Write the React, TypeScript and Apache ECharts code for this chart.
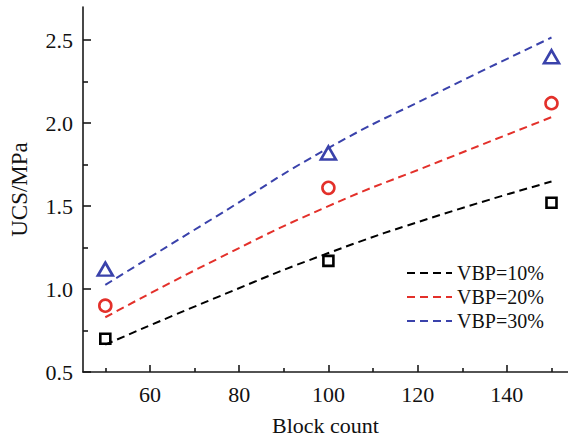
import React, { useEffect, useRef } from 'react';
import * as echarts from 'echarts';

// measured points
const blockCount = [50, 100, 150];
const ucs10 = [0.70, 1.17, 1.52];
const ucs20 = [0.90, 1.61, 2.12];
const ucs30 = [1.12, 1.82, 2.40];

// fitted dashed curves
const fitX = [50, 75, 100, 125, 150];
const fit10 = [0.665, 0.95, 1.217, 1.446, 1.648];
const fit20 = [0.83, 1.18, 1.50, 1.77, 2.036];
const fit30 = [1.025, 1.44, 1.85, 2.19, 2.516];

const seriesNames = ['VBP=10%', 'VBP=20%', 'VBP=30%'];

const xMajorTicks = [60, 80, 100, 120, 140];
const xMinorTicks = [50, 70, 90, 110, 130, 150];
const yMajorTicks = [0.5, 1.0, 1.5, 2.0, 2.5];
const yMinorTicks = [0.75, 1.25, 1.75, 2.25];

const BLACK = '#000000';
const RED = '#e3302a';
const BLUE = '#3a42ab';
const FONT = '"Liberation Serif", "Times New Roman", serif';

const pairs = (xs: number[], ys: number[]) => xs.map((x, i) => [x, ys[i]]);

export default function App() {
  const ref = useRef<HTMLDivElement>(null);
  useEffect(() => {
    if (!ref.current) return;
    const chart = echarts.init(ref.current, undefined, { renderer: 'svg' });
    const axisLineStyle = { color: '#1a1a1a', width: 1.6 };
    const xCommon = { type: 'value' as const, min: 45, max: 153.7, gridIndex: 0, position: 'bottom' as const };
    const yCommon = { type: 'value' as const, min: 0.5, max: 2.7, gridIndex: 0, position: 'left' as const };
    const lineSeries = (name: string, ys: number[], color: string) => ({
      name,
      type: 'line',
      data: pairs(fitX, ys),
      smooth: true,
      symbol: 'none',
      showSymbol: false,
      lineStyle: { color, width: 2, type: [8, 5] },
      itemStyle: { color },
      z: 2,
    });
    const scatterSeries = (ys: number[], color: string, symbol: string, size: any) => ({
      type: 'scatter',
      data: pairs(blockCount, ys),
      symbol,
      symbolSize: size,
      itemStyle: { color: 'rgba(0,0,0,0)', borderColor: color, borderWidth: 2.6, opacity: 1 },
      z: 3,
    });
    chart.setOption({
      animation: false,
      textStyle: { fontFamily: FONT },
      grid: { left: 82, right: 0, top: 7, bottom: 71, containLabel: false },
      xAxis: [
        {
          ...xCommon,
          name: 'Block count',
          nameLocation: 'middle',
          nameGap: 42,
          nameTextStyle: { fontFamily: FONT, fontSize: 22, color: '#111' },
          axisLine: { show: true, lineStyle: axisLineStyle },
          axisTick: { show: true, inside: true, length: 7, customValues: xMajorTicks, lineStyle: axisLineStyle },
          axisLabel: { show: true, customValues: xMajorTicks, fontFamily: FONT, fontSize: 22, color: '#111', margin: 11 },
          splitLine: { show: false },
        },
        {
          ...xCommon,
          axisLine: { show: false },
          axisTick: { show: true, inside: true, length: 4, customValues: xMinorTicks, lineStyle: axisLineStyle },
          axisLabel: { show: false },
          splitLine: { show: false },
        },
      ],
      yAxis: [
        {
          ...yCommon,
          name: 'UCS/MPa',
          nameLocation: 'middle',
          nameGap: 52,
          nameTextStyle: { fontFamily: FONT, fontSize: 23, color: '#111' },
          axisLine: { show: true, lineStyle: axisLineStyle },
          axisTick: { show: true, inside: true, length: 8, customValues: yMajorTicks, lineStyle: axisLineStyle },
          axisLabel: {
            show: true,
            customValues: yMajorTicks,
            fontFamily: FONT,
            fontSize: 22,
            color: '#111',
            margin: 10,
            formatter: (v: number) => v.toFixed(1),
          },
          splitLine: { show: false },
        },
        {
          ...yCommon,
          axisLine: { show: false },
          axisTick: { show: true, inside: true, length: 5, customValues: yMinorTicks, lineStyle: axisLineStyle },
          axisLabel: { show: false },
          splitLine: { show: false },
        },
      ],
      legend: {
        orient: 'vertical',
        left: 401,
        top: 258,
        itemWidth: 45,
        itemHeight: 14,
        itemGap: 4,
        data: seriesNames,
        itemStyle: { opacity: 0 },
        textStyle: { fontFamily: FONT, fontSize: 20, color: '#111' },
      },
      series: [
        lineSeries(seriesNames[0], fit10, BLACK),
        lineSeries(seriesNames[1], fit20, RED),
        lineSeries(seriesNames[2], fit30, BLUE),
        scatterSeries(ucs10, BLACK, 'rect', 10),
        scatterSeries(ucs20, RED, 'circle', 12),
        scatterSeries(ucs30, BLUE, 'triangle', [15, 13]),
      ],
    });
    return () => chart.dispose();
  }, []);
  return (
    <div
      ref={ref}
      style={{ position: 'fixed', left: 0, top: 0, width: 568, height: 443, background: '#fff' }}
    />
  );
}
